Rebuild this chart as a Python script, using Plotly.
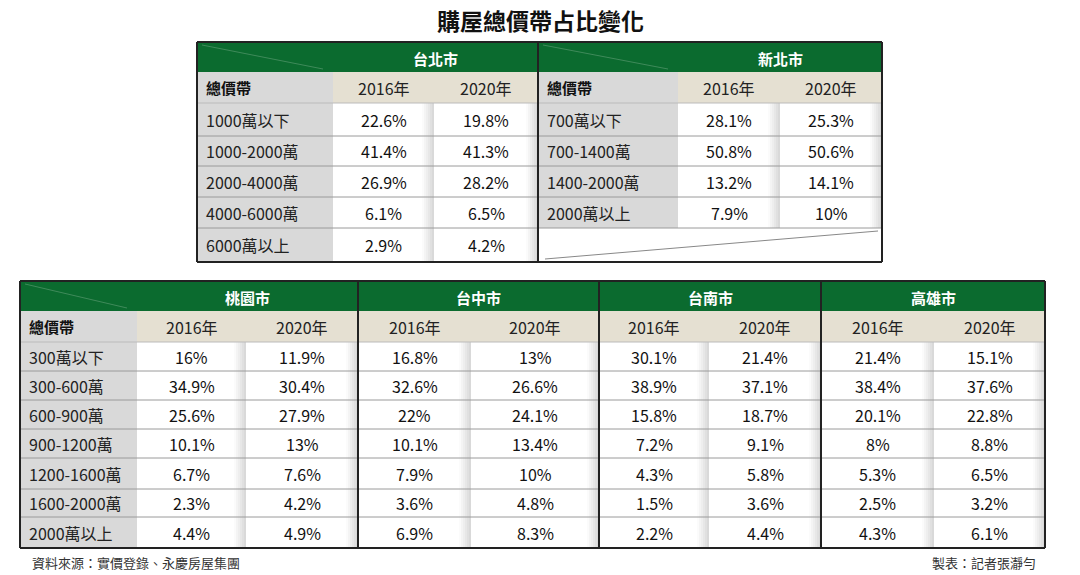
import plotly.graph_objects as go

TITLE = "購屋總價帶占比變化"
YEARS = ["2016年", "2020年"]
HEAD_LABEL = "總價帶"

taipei_bands = ["1000萬以下", "1000-2000萬", "2000-4000萬", "4000-6000萬", "6000萬以上"]
taipei_2016 = ["22.6%", "41.4%", "26.9%", "6.1%", "2.9%"]
taipei_2020 = ["19.8%", "41.3%", "28.2%", "6.5%", "4.2%"]

newtaipei_bands = ["700萬以下", "700-1400萬", "1400-2000萬", "2000萬以上"]
newtaipei_2016 = ["28.1%", "50.8%", "13.2%", "7.9%"]
newtaipei_2020 = ["25.3%", "50.6%", "14.1%", "10%"]

south_bands = ["300萬以下", "300-600萬", "600-900萬", "900-1200萬", "1200-1600萬", "1600-2000萬", "2000萬以上"]
south_cities = ["桃園市", "台中市", "台南市", "高雄市"]
taoyuan_2016 = ["16%", "34.9%", "25.6%", "10.1%", "6.7%", "2.3%", "4.4%"]
taoyuan_2020 = ["11.9%", "30.4%", "27.9%", "13%", "7.6%", "4.2%", "4.9%"]
taichung_2016 = ["16.8%", "32.6%", "22%", "10.1%", "7.9%", "3.6%", "6.9%"]
taichung_2020 = ["13%", "26.6%", "24.1%", "13.4%", "10%", "4.8%", "8.3%"]
tainan_2016 = ["30.1%", "38.9%", "15.8%", "7.2%", "4.3%", "1.5%", "2.2%"]
tainan_2020 = ["21.4%", "37.1%", "18.7%", "9.1%", "5.8%", "3.6%", "4.4%"]
kaohsiung_2016 = ["21.4%", "38.4%", "20.1%", "8%", "5.3%", "2.5%", "4.3%"]
kaohsiung_2020 = ["15.1%", "37.6%", "22.8%", "8.8%", "6.5%", "3.2%", "6.1%"]

SOURCE = "資料來源：實價登錄、永慶房屋集團"
AUTHOR = "製表：記者張瀞勻"

GREEN = "#0b6b2f"
BEIGE = "#e5e0d2"
GRAY = "#d9d9d9"
FONT = "Noto Sans CJK TC"

shapes, ann = [], []

def rect(x0, y0, x1, y1, fill, line=None, w=0):
    shapes.append(dict(type="rect", xref="x", yref="y", x0=x0, y0=y0, x1=x1, y1=y1,
                       fillcolor=fill, line=dict(color=line or fill, width=w), layer="below"))

def line(x0, y0, x1, y1, color, w=1):
    shapes.append(dict(type="line", xref="x", yref="y", x0=x0, y0=y0, x1=x1, y1=y1,
                       line=dict(color=color, width=w)))

def text(x, y, s, size=16, color="#111", anchor="center", bold=False):
    if bold:
        s = "<b>" + s + "</b>"
    ann.append(dict(x=x, y=y, xref="x", yref="y", text=s, showarrow=False, xanchor=anchor,
                    yanchor="middle", font=dict(family=FONT, size=size, color=color)))

def draw_table(x0, x1, y_edges, groups):
    top, gend, bend = y_edges[0], y_edges[1], y_edges[2]
    rows = y_edges[2:]
    bottom = rows[-1]
    for g in groups:
        lab0, lab1, cols, city, series, bands = g
        gx0 = lab0 if lab0 is not None else cols[0]
        rect(gx0, top, cols[-1], gend, GREEN)
        text((cols[0] + cols[-1]) / 2, (top + gend) / 2 + 1, city, 15, "white", bold=True)
        if lab0 is not None:
            line(lab0 + 5, top + 3, lab1 - 10, gend - 3, "#3f8a5a", 1)
            rect(lab0, gend, lab1, bottom, GRAY)
            text(lab0 + 7, (gend + bend) / 2, HEAD_LABEL, 15, "#111", "left", bold=True)
            for i, b in enumerate(bands):
                text(lab0 + 7, (rows[i] + rows[i + 1]) / 2, b, 16, "#222", "left")
        for c in range(2):
            cx0, cx1 = cols[c], cols[c + 1]
            rect(cx0, gend, cx1, bend, BEIGE)
            text((cx0 + cx1) / 2, (gend + bend) / 2, YEARS[c], 16, "#222")
            n = len(series[c])
            rect(cx0, bend, cx1, rows[n], "white")
            for k in range(6):
                shapes.append(dict(type="rect", xref="x", yref="y", x0=cx1 - 12 + 2 * k, x1=cx1 - 10 + 2 * k,
                                   y0=bend, y1=rows[n], fillcolor="rgba(120,120,120,%.2f)" % (0.03 + 0.05 * k),
                                   line=dict(width=0), layer="below"))
            for i, v in enumerate(series[c]):
                text((cx0 + cx1) / 2, (rows[i] + rows[i + 1]) / 2, v, 16, "#111")
        for r in rows[1:-1]:
            line(gx0, r, cols[-1], r, "#9a9a9a", 1)
        line(gx0, bend, cols[-1], bend, "#bbbbbb", 1)
    line(x0, top, x1, top, "#222", 2)
    line(x0, bottom, x1, bottom, "#222", 2)
    line(x0, top, x0, bottom, "#222", 2)
    line(x1, top, x1, bottom, "#222", 2)

# top table
top_y = [42, 72, 103, 136, 166, 197, 228, 262]
draw_table(197, 882, top_y, [
    (197, 333, [333, 434, 538], "台北市", [taipei_2016, taipei_2020], taipei_bands),
    (538, 678, [678, 780, 882], "新北市", [newtaipei_2016, newtaipei_2020], newtaipei_bands),
])
line(538, top_y[0], 538, top_y[-1], "#222", 2)
rect(538, 228, 882, 262, "white")
line(545, 259, 878, 231, "#888", 1)

# bottom table
bot_y = [281, 311, 342, 371, 400, 429, 458, 489, 517, 548]
cols_all = [137, 246, 358, 471, 599, 709, 821, 934, 1045]
south_series = [[taoyuan_2016, taoyuan_2020], [taichung_2016, taichung_2020],
                [tainan_2016, tainan_2020], [kaohsiung_2016, kaohsiung_2020]]
groups = []
for i, city in enumerate(south_cities):
    cols = cols_all[2 * i:2 * i + 3]
    if i == 0:
        groups.append((20, 137, cols, city, south_series[i], south_bands))
    else:
        groups.append((None, None, cols, city, south_series[i], south_bands))
draw_table(20, 1045, bot_y, groups)
for xv in [358, 599, 821]:
    line(xv, bot_y[0], xv, bot_y[-1], "#222", 2)

text(540, 20, TITLE, 23, "#111", bold=True)
text(30, 562, SOURCE, 13, "#333", "left")
text(1038, 562, AUTHOR, 13, "#333", "right")

fig = go.Figure()
fig.update_layout(width=1080, height=575, margin=dict(l=0, r=0, t=0, b=0),
                  paper_bgcolor="white", plot_bgcolor="white", shapes=shapes, annotations=ann,
                  xaxis=dict(range=[0, 1080], visible=False, fixedrange=True),
                  yaxis=dict(range=[575, 0], visible=False, fixedrange=True),
                  showlegend=False)
fig.write_html("out.html", config={"displayModeBar": False},
               post_script="document.body.style.margin='0';document.body.style.overflow='hidden';")
